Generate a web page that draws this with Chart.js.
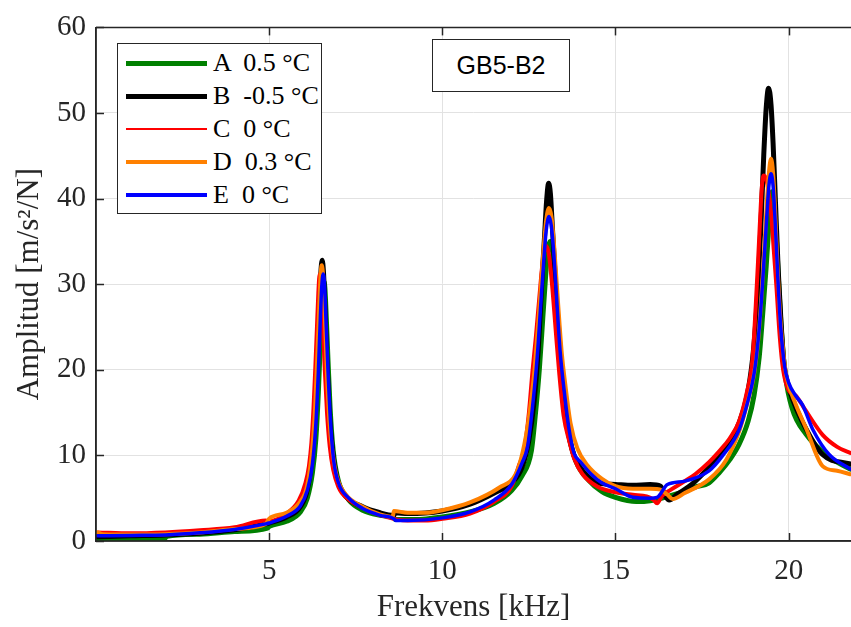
<!DOCTYPE html>
<html>
<head>
<meta charset="utf-8">
<script src="https://cdn.jsdelivr.net/npm/chart.js@4.4.1/dist/chart.umd.min.js"></script>
<style>
  html, body { margin: 0; padding: 0; background: #fff; }
  #wrap { position: relative; width: 851px; height: 627px; overflow: hidden; background: #fff; }
  #legend { position: absolute; left: 117px; top: 43px; width: 205px; height: 171px; box-sizing: border-box;
            border: 1px solid #262626; background: #fff; }
  .row { position: absolute; left: 0; height: 30px; width: 100%; }
  .sw { position: absolute; left: 8px; width: 81px; }
  .lt { position: absolute; left: 95px; top: 0; font-family: "Liberation Serif", serif; font-size: 26px;
        line-height: 30px; color: #000; white-space: pre; }
  #tag { position: absolute; left: 432px; top: 39px; width: 138px; height: 53px; box-sizing: border-box;
         border: 1px solid #262626; background: #fff; font-family: "Liberation Sans", Arial, sans-serif;
         font-size: 25px; line-height: 51px; text-align: center; color: #000; }
</style>
</head>
<body>
<div id="wrap">
  <canvas id="c" width="851" height="627"></canvas>
  <div id="legend"></div>
  <div id="tag">GB5-B2</div>
</div>
<script>
// ---------- data ----------
const seriesLabels = ["A  0.5 °C", "B  -0.5 °C", "C  0 °C", "D  0.3 °C", "E  0 °C"];
const seriesColors = ["#008000", "#000000", "#ff0000", "#ff8000", "#0000ff"];

const xTickValues = [5, 10, 15, 20];
const yTickValues = [0, 10, 20, 30, 40, 50, 60];

// A  0.5 °C (green)
const freqA = [0.05, 1, 2, 2.05, 3, 4, 4.95, 5.0, 5.5, 5.9,
  6.1, 6.25, 6.35, 6.42, 6.48, 6.53, 6.56, 6.58, 6.61, 6.65,
  6.7, 6.76, 6.85, 7.0, 7.3, 7.7, 8.2, 8.6, 8.65, 9.2,
  10, 10.8, 11.5, 12.0, 12.3, 12.57, 12.68, 12.8, 12.9, 12.98,
  13.04, 13.09, 13.12, 13.16, 13.22, 13.3, 13.4, 13.52, 13.65, 13.85,
  14.25, 14.6, 15.0, 15.6, 16.0, 16.5, 17.0, 17.3, 17.7, 18.0,
  18.3, 18.57, 18.83, 19.0, 19.15, 19.25, 19.35, 19.43, 19.48, 19.52,
  19.57, 19.63, 19.7, 19.8, 19.9, 20.1, 20.5, 21.17, 21.78];
const ampA = [0.3, 0.35, 0.35, 0.55, 0.8, 1.1, 1.5, 1.7, 2.3, 3.4,
  5.0, 8.0, 12, 17.3, 23.5, 28.3, 30, 30.3, 29.5, 26,
  21, 15.5, 10.5, 7, 4.8, 3.6, 3.0, 2.7, 2.5, 2.5,
  2.8, 3.4, 4.4, 5.9, 7.6, 10.5, 14.5, 20, 26, 30.8,
  33.8, 34.8, 35, 34.6, 32.3, 28, 22.5, 16, 12.5, 9.4,
  7.0, 5.8, 5.1, 4.6, 4.7, 5.2, 5.8, 6.3, 6.8, 8.0,
  9.5, 11.3, 14, 17, 21.5, 26.5, 32, 37, 39.8, 40.8,
  40, 36.5, 31, 24, 19.5, 15.5, 12.5, 9.8, 8.4];

// B  -0.5 °C (black)
const freqB = [0.05, 1, 2, 3, 4, 4.9, 5.0, 5.5, 5.9, 6.1,
  6.25, 6.33, 6.4, 6.45, 6.49, 6.53, 6.57, 6.61, 6.66, 6.73,
  6.81, 6.95, 7.2, 7.7, 8.2, 8.6, 8.65, 9.0, 10, 10.8,
  11.5, 12.0, 12.3, 12.5, 12.65, 12.77, 12.87, 12.95, 13.01, 13.07,
  13.12, 13.18, 13.25, 13.35, 13.47, 13.6, 13.8, 14.1, 14.5, 15.0,
  15.5, 16.0, 16.3, 16.45, 16.55, 16.8, 17.2, 17.7, 18.1, 18.57,
  18.8, 18.95, 19.05, 19.12, 19.2, 19.28, 19.35, 19.42, 19.49, 19.55,
  19.62, 19.7, 19.78, 19.87, 20.0, 20.1, 20.4, 20.98, 21.78];
const ampB = [0.5, 0.6, 0.7, 0.9, 1.3, 2.0, 2.1, 2.8, 4.0, 6.0,
  10.2, 14.8, 21.5, 27.5, 31.2, 32.8, 31.3, 27.5, 21.8, 15.5,
  11.3, 7.5, 5.3, 4.0, 3.3, 3.0, 3.3, 3.2, 3.5, 4.3,
  5.6, 6.8, 8.6, 11.8, 16.3, 22.4, 30, 35.5, 39.7, 41.8,
  40.6, 36.5, 31.5, 24.5, 18, 13.5, 10, 8, 6.8, 6.6,
  6.5, 6.6, 6.4, 5.2, 4.8, 5.5, 6.6, 8.6, 10.5, 13.8,
  17, 21, 25.5, 30, 37, 45, 50.5, 52.9, 51, 46.5,
  39.5, 31.5, 25.5, 20.5, 18, 16.7, 13.9, 10.1, 9.0];

// C  0 °C (red)
const freqC = [0.05, 1, 2, 3, 4, 4.9, 5.0, 5.5, 5.85, 6.05,
  6.15, 6.22, 6.28, 6.33, 6.38, 6.42, 6.46, 6.5, 6.55, 6.6,
  6.67, 6.75, 6.85, 7.0, 7.1, 7.33, 7.7, 8.0, 8.4, 8.7,
  9.0, 9.5, 10, 10.8, 11.5, 12.0, 12.2, 12.37, 12.5, 12.6,
  12.7, 12.8, 12.9, 13.0, 13.08, 13.18, 13.28, 13.38, 13.5, 13.67,
  13.8, 14.05, 14.5, 15.0, 15.5, 15.9, 16.1, 16.2, 16.35, 16.6,
  17.0, 17.3, 17.7, 18.0, 18.3, 18.57, 18.8, 18.95, 19.05, 19.12,
  19.18, 19.22, 19.27, 19.35, 19.43, 19.5, 19.57, 19.65, 19.74, 19.84,
  20.0, 20.2, 20.45, 20.98, 21.4, 21.78];
const ampC = [1.0, 0.9, 1.0, 1.25, 1.6, 2.4, 2.3, 3.2, 4.7, 6.8,
  8.8, 11.5, 15.5, 20, 25, 29, 31.2, 29.8, 25.5, 20.5,
  15, 11, 8.3, 6.3, 5.6, 4.7, 3.9, 3.3, 2.8, 2.5,
  2.4, 2.4, 2.6, 3.2, 4.6, 6.4, 8.7, 10.8, 15, 19.7,
  23.8, 28.4, 32.7, 34.5, 33.4, 29.4, 24.3, 19.4, 14.7, 11.6,
  9.7, 7.8, 6.3, 5.7, 5.4, 5.2, 4.8, 4.4, 5.3, 6.0,
  7.0, 7.8, 9.2, 10.5, 12, 14, 17.5, 21, 27.5, 33,
  38, 41, 42.7, 42.3, 40.5, 38, 34, 29.5, 24, 20,
  17.6, 17, 15.5, 12.4, 11, 10.3];

// D  0.3 °C (orange)
const freqD = [0.05, 0.2, 1, 2, 3, 4, 4.9, 5.0, 5.5, 5.9,
  6.1, 6.25, 6.33, 6.4, 6.45, 6.49, 6.52, 6.56, 6.61, 6.67,
  6.74, 6.83, 6.95, 7.2, 7.7, 8.2, 8.57, 8.6, 9.0, 9.5,
  10, 10.8, 11.65, 12.13, 12.32, 12.5, 12.65, 12.78, 12.9, 13.0,
  13.08, 13.15, 13.23, 13.33, 13.45, 13.55, 13.7, 13.9, 14.2, 14.6,
  15.0, 15.5, 16.0, 16.3, 16.5, 16.65, 17.0, 17.7, 18.2, 18.57,
  18.8, 19.0, 19.12, 19.22, 19.3, 19.37, 19.43, 19.49, 19.55, 19.61,
  19.68, 19.76, 19.86, 19.95, 20.2, 20.5, 20.98, 21.4, 21.78];
const ampD = [1.0, 0.8, 0.75, 0.8, 1.0, 1.4, 2.0, 2.6, 3.3, 4.6,
  6.5, 11, 15.8, 22.5, 27.7, 31.4, 32.2, 30.8, 26, 19.4,
  14, 10.4, 7.6, 5.5, 4.0, 3.1, 2.8, 3.5, 3.3, 3.3,
  3.6, 4.5, 6.25, 7.9, 10.4, 14.4, 19.5, 26, 32.9, 37.5,
  38.9, 37.9, 34.4, 28.5, 21.9, 18.3, 13.8, 10.8, 8.8, 7.3,
  6.4, 6.1, 6.1, 6.0, 5.4, 4.9, 5.6, 7.2, 9.5, 12.8,
  16, 19.5, 23.5, 29, 34.5, 39.5, 43, 44.65, 43, 38.5,
  32, 26, 21.5, 19, 16, 13.2, 8.75, 8.2, 7.8];

// E  0 °C (blue)
const freqE = [0.05, 1, 2, 3, 4, 4.9, 5.0, 5.5, 5.9, 6.1,
  6.25, 6.35, 6.42, 6.48, 6.52, 6.56, 6.6, 6.65, 6.7, 6.77,
  6.86, 7.0, 7.3, 7.7, 8.2, 8.6, 8.65, 9.0, 10, 10.8,
  11.5, 12.0, 12.3, 12.46, 12.6, 12.74, 12.84, 12.93, 13.0, 13.08,
  13.15, 13.22, 13.3, 13.4, 13.52, 13.65, 13.8, 14.0, 14.3, 14.6,
  15.0, 15.5, 16.0, 16.2, 16.5, 17.0, 17.7, 18.1, 18.57, 18.8,
  19.0, 19.12, 19.22, 19.3, 19.37, 19.43, 19.49, 19.55, 19.62, 19.69,
  19.77, 19.88, 20.0, 20.2, 20.4, 20.7, 21.17, 21.78];
const ampE = [0.6, 0.65, 0.7, 0.95, 1.35, 2.0, 2.1, 2.9, 4.1, 5.9,
  9, 13.8, 19.7, 26.3, 29.8, 31.2, 29.8, 24.8, 19.8, 14,
  9.5, 6.8, 5.0, 3.8, 3.0, 2.6, 2.4, 2.4, 2.7, 3.4,
  4.8, 6.6, 9.1, 11, 15.5, 21.5, 27.5, 32.8, 36.3, 37.9,
  36.7, 33.5, 28.4, 22.2, 17.5, 13.3, 10.3, 9.2, 7.8, 6.8,
  6.1, 5.1, 5.0, 5.1, 6.6, 7.0, 8.2, 10, 13, 16,
  19.5, 23.5, 28.5, 33.5, 38, 41.5, 42.9, 41.5, 36.5, 30.5,
  25, 20.5, 18.5, 17, 15.9, 13, 10.1, 8.4];

const xTitle = "Frekvens [kHz]";
const yTitle = "Amplitud [m/s\u00B2/N]";
const xMin = 0, xMax = 21.8, yMin = 0, yMax = 60;

// ---------- styling ----------
const plotWidths = [5, 5, 4, 4, 3.5];
const legendWidths = [5, 5, 2, 3.5, 3.5];
const drawOrder = [5, 4, 3, 2, 1];
const axisColor = "#262626";
const gridColor = "#e2e2e2";
const serif = "'Liberation Serif', 'Times New Roman', serif";

const freqs = [freqA, freqB, freqC, freqD, freqE];
const amps = [ampA, ampB, ampC, ampD, ampE];

const datasets = seriesLabels.map((lab, i) => ({
  label: lab,
  data: freqs[i].map((f, k) => ({ x: f, y: amps[i][k] })),
  borderColor: seriesColors[i],
  backgroundColor: seriesColors[i],
  borderWidth: plotWidths[i],
  pointRadius: 0,
  fill: false,
  cubicInterpolationMode: "monotone",
  borderJoinStyle: "round",
  borderCapStyle: "round",
  order: drawOrder[i]
}));

// legend (HTML text, built from the series arrays)
const legendEl = document.getElementById("legend");
const rowCenters = [19, 52, 85, 118, 151];
seriesLabels.forEach((lab, i) => {
  const row = document.createElement("div");
  row.className = "row";
  row.style.top = (rowCenters[i] - 15) + "px";
  const sw = document.createElement("div");
  sw.className = "sw";
  sw.style.height = legendWidths[i] + "px";
  sw.style.top = (15 - legendWidths[i] / 2) + "px";
  sw.style.background = seriesColors[i];
  const t = document.createElement("div");
  t.className = "lt";
  t.textContent = lab;
  row.appendChild(sw);
  row.appendChild(t);
  legendEl.appendChild(row);
});

// frame: top line and inward tick marks (MATLAB style)
const framePlugin = {
  id: "frame",
  afterDraw(chart) {
    const { ctx, chartArea: { left, right, top, bottom }, scales: { x, y } } = chart;
    ctx.save();
    ctx.strokeStyle = axisColor;
    ctx.lineWidth = 1.5;
    const seg = (x1, y1, x2, y2) => { ctx.beginPath(); ctx.moveTo(x1, y1); ctx.lineTo(x2, y2); ctx.stroke(); };
    seg(left, top, right, top);
    seg(left, bottom, right, bottom);
    seg(left, top, left, bottom);
    x.ticks.forEach(t => {
      const px = Math.round(x.getPixelForValue(t.value)) + 0.5;
      seg(px, bottom, px, bottom - 8);
      seg(px, top, px, top + 8);
    });
    y.ticks.forEach(t => {
      const py = Math.round(y.getPixelForValue(t.value)) + 0.5;
      seg(left, py, left + 8, py);
    });
    ctx.restore();
  }
};

new Chart(document.getElementById("c"), {
  type: "line",
  data: { datasets },
  options: {
    responsive: false,
    animation: false,
    layout: { padding: { top: 20, right: 0, left: 0, bottom: 0 } },
    plugins: { legend: { display: false }, tooltip: { enabled: false } },
    elements: { line: { tension: 0 } },
    scales: {
      x: {
        type: "linear",
        min: xMin, max: xMax,
        afterBuildTicks: s => { s.ticks = xTickValues.map(v => ({ value: v })); },
        afterFit: s => { s.height = 86; },
        grid: { color: gridColor, lineWidth: 1, drawTicks: false },
        border: { display: true, color: axisColor, width: 1.5 },
        ticks: { font: { family: serif, size: 29 }, color: axisColor, padding: 13, maxRotation: 0 },
        title: { display: true, text: xTitle, font: { family: serif, size: 31 }, color: axisColor, padding: { top: 0, bottom: 1 } }
      },
      y: {
        type: "linear",
        min: yMin, max: yMax,
        afterBuildTicks: s => { s.ticks = yTickValues.map(v => ({ value: v })); },
        afterFit: s => { s.width = 96; },
        grid: { color: gridColor, lineWidth: 1, drawTicks: false },
        border: { display: true, color: axisColor, width: 1.5 },
        ticks: { font: { family: serif, size: 29 }, color: axisColor, padding: 10 },
        title: { display: true, text: yTitle, font: { family: serif, size: 31 }, color: axisColor, padding: { top: 11, bottom: 0 } }
      }
    }
  },
  plugins: [framePlugin]
});
</script>
</body>
</html>
